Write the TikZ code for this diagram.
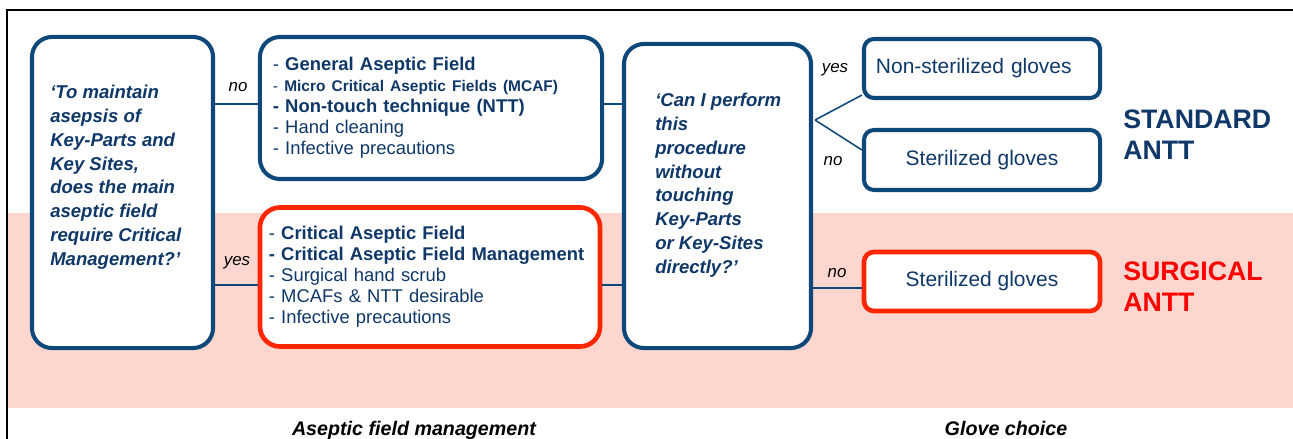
\documentclass[tikz,border=0pt]{standalone}
\usepackage{fontspec}
\setmainfont{Liberation Sans}
\usetikzlibrary{positioning, calc}
\definecolor{anttblue}{RGB}{14,72,122}
\definecolor{textblue}{RGB}{15,56,104}
\definecolor{anttred}{RGB}{255,38,0}
\definecolor{surgred}{RGB}{255,0,0}
\definecolor{bandpink}{RGB}{253,214,208}
\tikzset{
    bluebox/.style={draw=anttblue, line width=2.9pt, fill=white, rounded corners=0.5cm, inner sep=0pt},
    redbox/.style={draw=anttred, line width=3.3pt, fill=white, rounded corners=0.5cm, inner sep=0pt},
    glovebox/.style={rounded corners=0.25cm, text=textblue, font=\fontsize{14.9}{17}\selectfont,
        minimum width=5.9cm},
    listtext/.style={text=textblue, align=left, font=\fontsize{13.1}{14.9}\selectfont},
    question/.style={text=textblue, align=left, inner sep=0pt, anchor=north west,
        font=\fontsize{13.2}{16.9}\selectfont\bfseries\itshape},
    answer/.style={inner sep=0pt, font=\fontsize{12}{14}\selectfont\itshape},
    link/.style={draw=anttblue, line width=1.1pt},
    antt/.style={anchor=west, align=left, inner sep=0pt, font=\fontsize{19}{22}\selectfont\bfseries},
    caption/.style={anchor=base, inner sep=0pt, font=\fontsize{14}{16}\selectfont\bfseries\itshape}
}

\begin{document}
\begin{tikzpicture}[x=0.025cm, y=-0.025cm]
    \useasboundingbox (0,0) rectangle (1293,439);
    % band and frame
    \fill[bandpink] (8,213) rectangle (1293,408);
    \draw[black, line width=1.4pt] (7,439) -- (7,10) -- (1293,10);
    % levels of the horizontal links
    \coordinate (lvA) at (0,104);
    \coordinate (lvB) at (0,285);
    \coordinate (lvC) at (0,288);
    \coordinate (fork) at (815,120);

    % aseptic field management
    \node[bluebox, minimum width=4.525cm, minimum height=7.775cm] (q1) at (122.5,192.5) {};
    \node[question] (q1txt) at (50,85) {‘To maintain\\asepsis of\\Key-Parts and\\Key Sites,\\does the main\\aseptic field\\require Critical\\Management?’};
    \node[bluebox, listtext, minimum width=8.55cm, minimum height=3.55cm, inner xsep=0.3cm, text width=7.9cm] (gen) at (431,108)
        {- \textbf{General Aseptic Field}\\
         {\fontsize{11}{14.9}\selectfont - \textbf{Micro Critical Aseptic Fields (MCAF)}}\\
         \textbf{- Non-touch technique (NTT)}\\
         - Hand cleaning\\
         - Infective precautions};
    \node[redbox, listtext, minimum width=8.5cm, minimum height=3.475cm, inner xsep=0.2cm, text width=8.05cm] (crit) at (430,277)
        {- \textbf{Critical Aseptic Field}\\
         \textbf{- Critical Aseptic Field Management}\\
         - Surgical hand scrub\\
         - MCAFs \& NTT desirable\\
         - Infective precautions};

    % glove choice
    \node[bluebox, minimum width=4.675cm, minimum height=7.6cm] (q2) at (717.5,196) {};
    \node[question] (q2txt) at (655,93) {‘Can I perform\\this\\procedure\\without\\touching\\Key-Parts\\or Key-Sites\\directly?’};
    \node[bluebox, glovebox, minimum height=1.475cm, inner xsep=0.3cm, text width=5.3cm, align=left] (nonst) at (982,68.5) {Non-sterilized gloves};
    \node[bluebox, glovebox, minimum height=1.5cm] (st) at (982,160) {Sterilized gloves};
    \node[redbox, glovebox, minimum height=1.475cm] (surg) at (982,281.5) {Sterilized gloves};

    \node[antt, text=textblue] (std) at (1123,134.5) {STANDARD\\ANTT};
    \node[antt, text=surgred] (sur) at (1123,286.5) {SURGICAL\\ANTT};

    % links
    \draw[link] (q1.east |- lvA) -- (gen.west |- lvA);
    \draw[link] (q1.east |- lvB) -- (crit.west |- lvB);
    \draw[link] (gen.east |- lvA) -- (q2.west |- lvA);
    \draw[link] (crit.east |- lvB) -- (q2.west |- lvB);
    \draw[link] (fork) -- ([yshift=0.125cm]nonst.south west);
    \draw[link] (fork) -- ([yshift=0.25cm]st.west);
    \draw[link] (q2.east |- lvC) -- (surg.west |- lvC);

    \node[answer] (ano) at (238,87) {no};
    \node[answer] (ayes) at (237,263) {yes};
    \node[answer] (gyes) at (835,70) {yes};
    \node[answer] (gno) at (833,161) {no};
    \node[answer] (sno) at (837,273) {no};

    \node[caption] (capa) at (414,435) {Aseptic field management};
    \node[caption] (capg) at (1006,435) {Glove choice};
\end{tikzpicture}
\end{document}
